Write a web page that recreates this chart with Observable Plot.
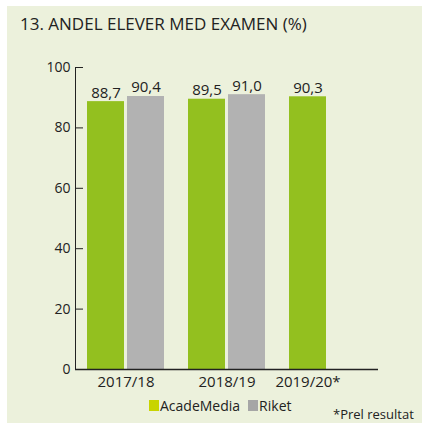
<!DOCTYPE html>
<html><head><meta charset="utf-8">
<script src="https://cdn.jsdelivr.net/npm/d3@7"></script>
<script src="https://cdn.jsdelivr.net/npm/@observablehq/plot@0.6"></script>
<style>
body{margin:0;background:#fff;font-family:"Open Sans",sans-serif;color:#222;}
#panel{position:absolute;left:7px;top:6px;width:415px;height:417px;background:#ECF1DC;overflow:hidden;}
#title{position:absolute;left:20px;top:15px;font-size:17px;line-height:17px;white-space:nowrap;}
#chart{position:absolute;left:0;top:40px;}
#legend{position:absolute;left:149px;top:399px;font-size:14px;line-height:14px;white-space:nowrap;}
#legend .sw{display:inline-block;width:10px;height:11px;vertical-align:baseline;margin-right:1px;}
#legend .item{margin-right:8px;}
#note{position:absolute;left:333px;top:408px;font-size:13px;line-height:13px;white-space:nowrap;}
</style></head><body>
<div id="panel"></div>
<div id="title">13. ANDEL ELEVER MED EXAMEN (%)</div>
<div id="chart"></div>
<div id="legend"></div>
<div id="note">*Prel resultat</div>
<script>
const years = ["2017/18", "2018/19", "2019/20*"];
const series = ["AcadeMedia", "Riket"];
const acadeMedia = [88.7, 89.5, 90.3];
const riket = [90.4, 91.0, null];
const yTicks = [0, 20, 40, 60, 80, 100];
const barColors = ["#93C01F", "#B2B2B2"];
const legendColors = ["#C8D400", "#A6A6A6"];

const rows = years.flatMap((y, i) => [
  {year: y, series: series[0], value: acadeMedia[i]},
  {year: y, series: series[1], value: riket[i]}
]).filter(d => d.value != null);

const labelsPaired = years.filter(y => rows.filter(r => r.year === y).length > 1).map(y => ({year: y}));
const labelsSingle = years.filter(y => rows.filter(r => r.year === y).length === 1)
  .map(y => ({year: y, series: rows.find(r => r.year === y).series}));

const fmt = v => v.toFixed(1).replace(".", ",");

const chart = Plot.plot({
  width: 422, height: 360,
  marginLeft: 75, marginRight: 44, marginTop: 27, marginBottom: 31,
  style: {background: "transparent", fontFamily: "Open Sans", color: "#222", overflow: "visible"},
  fx: {domain: years, padding: 0, axis: null},
  x: {domain: series, paddingInner: 0.075, paddingOuter: 0.3, axis: null},
  y: {domain: [0, 100], axis: null},
  color: {domain: series, range: barColors},
  marks: [
    Plot.barY(rows, {fx: "year", x: "series", y: "value", fill: "series"}),
    Plot.text(rows, {fx: "year", x: "series", y: "value", text: d => fmt(d.value), lineAnchor: "bottom", dy: -4, fontSize: 15, fill: "#222"}),
    Plot.axisY({ticks: yTicks, tickSize: 0, tickPadding: 5, fontSize: 14, label: null, fill: "#222"}),
    Plot.axisY({ticks: yTicks, tickSize: -8, tickFormat: () => "", label: null, stroke: "#222"}),
    Plot.frame({anchor: "left", facetAnchor: "left", stroke: "#222"}),
    Plot.ruleY([0], {stroke: "#222", strokeWidth: 1.5}),
    Plot.text(labelsPaired, {fx: "year", text: "year", frameAnchor: "bottom", lineAnchor: "top", dy: 7, fontSize: 15, fill: "#222"}),
    Plot.text(labelsSingle, {fx: "year", x: "series", text: "year", frameAnchor: "bottom", lineAnchor: "top", dy: 7, fontSize: 15, fill: "#222"})
  ]
});
document.getElementById("chart").appendChild(chart);

const legend = document.getElementById("legend");
series.forEach((s, i) => {
  const item = document.createElement("span");
  item.className = "item";
  const sw = document.createElement("span");
  sw.className = "sw";
  sw.style.background = legendColors[i];
  item.appendChild(sw);
  item.appendChild(document.createTextNode(s));
  legend.appendChild(item);
});
</script>
</body></html>
